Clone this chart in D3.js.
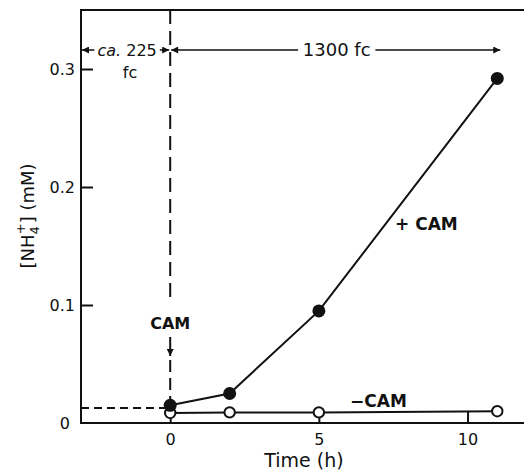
<!DOCTYPE html>
<html><head><meta charset="utf-8">
<script src="https://cdn.jsdelivr.net/npm/d3@7"></script>
<style>body{margin:0;background:#fff}svg text{font-family:"DejaVu Sans",sans-serif;fill:#111}</style>
</head><body><svg id="c" width="524" height="471"></svg>
<script>
const timesPlus = [0, 2, 5, 11];
const nh4Plus = [0.015, 0.025, 0.095, 0.292];
const timesMinus = [0, 2, 5, 11];
const nh4Minus = [0.0085, 0.009, 0.009, 0.010];
const xTicks = [0, 5, 10];
const yTicks = [0, 0.1, 0.2, 0.3];
const baselineLevel = 0.0127;

const svg = d3.select("#c");
const x = d3.scaleLinear().domain([-3, 12]).range([81, 527]);
const y = d3.scaleLinear().domain([0, 0.35]).range([423, 10]);
const ink = "#111";

// frame: left axis, bottom axis, top line
svg.append("line").attr("x1",81).attr("x2",81).attr("y1",y(0.35)).attr("y2",y(0)+1).attr("stroke",ink).attr("stroke-width",2);
svg.append("line").attr("x1",80).attr("x2",524).attr("y1",y(0)).attr("y2",y(0)).attr("stroke",ink).attr("stroke-width",2);
svg.append("line").attr("x1",80).attr("x2",524).attr("y1",y(0.35)).attr("y2",y(0.35)).attr("stroke",ink).attr("stroke-width",2);

// x axis ticks (inward)
const xa = svg.append("g").attr("transform",`translate(0,${y(0)})`)
  .call(d3.axisBottom(x).tickValues(xTicks).tickSize(-11).tickPadding(11).tickFormat(d3.format("d")));
xa.select(".domain").remove();
xa.selectAll("line").attr("stroke",ink).attr("stroke-width",2);
xa.selectAll("text").attr("font-size",16).attr("fill",ink);

// y axis ticks
const ya = svg.append("g").attr("transform",`translate(${x(-3)},0)`)
  .call(d3.axisLeft(y).tickValues(yTicks).tickSize(-12).tickPadding(6).tickFormat(d => d===0 ? "0" : d3.format(".1f")(d)));
ya.select(".domain").remove();
ya.selectAll("line").attr("stroke",ink).attr("stroke-width",2).filter(d=>d===0).remove();
ya.selectAll("text").attr("font-size",16).attr("fill",ink);
ya.selectAll(".tick").filter(d=>d===0).select("text").attr("dx",-5);

// axis titles
svg.append("text").attr("x",304).attr("y",467).attr("text-anchor","middle").attr("font-size",19).text("Time (h)");
const yl = svg.append("text").attr("transform",`translate(34,${216}) rotate(-90)`).attr("text-anchor","middle").attr("font-size",18);
yl.append("tspan").text("[NH");
yl.append("tspan").attr("font-size",13).attr("dy",5).text("4");
yl.append("tspan").attr("font-size",13).attr("dy",-14).attr("dx",-8).text("+");
yl.append("tspan").attr("dy",9).text("] (mM)");

// dashed lines
svg.append("line").attr("x1",x(-3)).attr("x2",x(0)).attr("y1",y(baselineLevel)).attr("y2",y(baselineLevel)).attr("stroke",ink).attr("stroke-width",2).attr("stroke-dasharray","8,5");
svg.append("line").attr("x1",x(0)).attr("x2",x(0)).attr("y1",y(0.35)).attr("y2",303).attr("stroke",ink).attr("stroke-width",2).attr("stroke-dasharray","14,7");
svg.append("line").attr("x1",x(0)).attr("x2",x(0)).attr("y1",360).attr("y2",y(nh4Plus[0])).attr("stroke",ink).attr("stroke-width",2).attr("stroke-dasharray","12,6");

// arrow marker
const defs = svg.append("defs");
defs.append("marker").attr("id","ah").attr("viewBox","0 0 10 10").attr("refX",10).attr("refY",5)
  .attr("markerWidth",10).attr("markerHeight",7).attr("markerUnits","userSpaceOnUse").attr("orient","auto-start-reverse")
  .append("path").attr("d","M0,0L10,5L0,10Z").attr("fill",ink);

// CAM arrow
svg.append("text").attr("x",x(0)).attr("y",329).attr("text-anchor","middle").attr("font-size",16).attr("font-weight","bold").text("CAM");
svg.append("line").attr("x1",x(0)).attr("x2",x(0)).attr("y1",337).attr("y2",356).attr("stroke",ink).attr("stroke-width",2).attr("marker-end","url(#ah)");

// light period arrows
const ay = 50;
svg.append("line").attr("x1",x(-3)+1).attr("x2",x(-2.55)).attr("y1",ay).attr("y2",ay).attr("stroke",ink).attr("stroke-width",1.5).attr("marker-start","url(#ah)");
svg.append("line").attr("x1",x(-0.35)).attr("x2",x(0)-1).attr("y1",ay).attr("y2",ay).attr("stroke",ink).attr("stroke-width",1.5).attr("marker-end","url(#ah)");
const t1 = svg.append("text").attr("x",x(-1.45)).attr("y",ay+6).attr("text-anchor","middle").attr("font-size",16);
t1.append("tspan").attr("font-style","italic").text("ca.");
t1.append("tspan").text(" 225");
svg.append("text").attr("x",x(-1.35)).attr("y",78).attr("text-anchor","middle").attr("font-size",16).text("fc");

svg.append("line").attr("x1",x(0)+1).attr("x2",x(4.3)).attr("y1",ay).attr("y2",ay).attr("stroke",ink).attr("stroke-width",1.5).attr("marker-start","url(#ah)");
svg.append("text").attr("x",x(5.6)).attr("y",ay+6).attr("text-anchor","middle").attr("font-size",18).text("1300 fc");
svg.append("line").attr("x1",x(6.9)).attr("x2",x(11.1)).attr("y1",ay).attr("y2",ay).attr("stroke",ink).attr("stroke-width",1.5).attr("marker-end","url(#ah)");

// series
const line = d3.line().x(d=>x(d[0])).y(d=>y(d[1]));
const minus = timesMinus.map((t,i)=>[t,nh4Minus[i]]);
const plus = timesPlus.map((t,i)=>[t,nh4Plus[i]]);
svg.append("path").datum(minus).attr("d",line).attr("fill","none").attr("stroke",ink).attr("stroke-width",2);
svg.append("path").datum(plus).attr("d",line).attr("fill","none").attr("stroke",ink).attr("stroke-width",2);
svg.selectAll(".om").data(minus).join("circle").attr("cx",d=>x(d[0])).attr("cy",d=>y(d[1])).attr("r",5.2)
  .attr("fill","#fff").attr("stroke",ink).attr("stroke-width",2);
svg.selectAll(".fm").data(plus).join("circle").attr("cx",d=>x(d[0])).attr("cy",d=>y(d[1])).attr("r",6.5).attr("fill",ink);

svg.append("text").attr("x",395).attr("y",230).attr("font-size",17).attr("font-weight","bold").text("+ CAM");
svg.append("text").attr("x",350).attr("y",407).attr("font-size",17).attr("font-weight","bold").text("\u2212CAM");
</script></body></html>
